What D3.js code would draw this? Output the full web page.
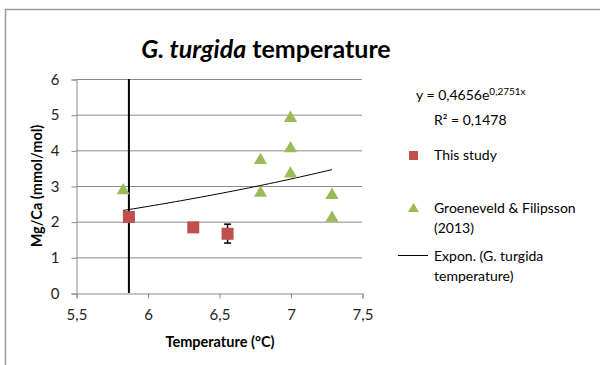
<!DOCTYPE html>
<html>
<head>
<meta charset="utf-8">
<script src="https://cdn.jsdelivr.net/npm/d3@7"></script>
<style>
  html, body { margin: 0; padding: 0; background: #fff; }
  svg { display: block; font-family: Lato, "Open Sans", sans-serif; }
</style>
</head>
<body>
<svg id="chart" width="600" height="365"></svg>
<script>
// Mg/Ca vs temperature for G. turgida
const studyTemp = [5.87, 6.32, 6.56];
const studyMgCa = [2.13, 1.84, 1.66];
const studyErrLow = [0, null, 1.40];
const studyErrHigh = [8, null, 1.93];

const groenTemp = [5.83, 6.79, 6.79, 7.0, 7.0, 7.0, 7.29, 7.29];
const groenMgCa = [2.90, 3.75, 2.83, 4.93, 4.08, 3.37, 2.77, 2.13];

const xTicks = [5.5, 6, 6.5, 7, 7.5];
const yTicks = [0, 1, 2, 3, 4, 5, 6];

// exponential trendline coefficients
const trendA = 0.4656, trendB = 0.2751;
const trendRange = [5.83, 7.29];
const trendSamples = d3.range(0, 41);

const fmt = v => String(v).replace(".", ",");

const svg = d3.select("#chart");
const plot = { left: 76, right: 362, top: 79, bottom: 293 };

const x = d3.scaleLinear().domain([5.5, 7.5]).range([plot.left, plot.right]);
const y = d3.scaleLinear().domain([0, 6]).range([plot.bottom, plot.top]);

// chart area border
svg.append("path")
  .attr("d", `M5.5,365 V9.5 H600`)
  .attr("fill", "none").attr("stroke", "#9a9a9a").attr("stroke-width", 1.5);

// title
const title = svg.append("text")
  .attr("x", 266).attr("y", 58).attr("text-anchor", "middle")
  .attr("font-size", 25).attr("font-weight", "bold").attr("fill", "#000");
title.append("tspan").attr("font-style", "italic").text("G. turgida");
title.append("tspan").text(" temperature");

// gridlines
svg.append("g").selectAll("line").data(yTicks.filter(t => t > 0)).join("line")
  .attr("x1", plot.left).attr("x2", plot.right)
  .attr("y1", d => y(d) + 0.5).attr("y2", d => y(d) + 0.5)
  .attr("stroke", "#8c8c8c").attr("stroke-width", 1);

// axes
const yAxis = svg.append("g").attr("transform", `translate(${plot.left + 0.5},0.5)`)
  .call(d3.axisLeft(y).tickValues(yTicks).tickSize(5).tickPadding(12).tickFormat(fmt));
const xAxis = svg.append("g").attr("transform", `translate(0.5,${plot.bottom + 0.5})`)
  .call(d3.axisBottom(x).tickValues(xTicks).tickSize(5).tickPadding(11).tickFormat(fmt));
[xAxis, yAxis].forEach(a => {
  a.select(".domain").attr("stroke", "#8c8c8c");
  a.selectAll(".tick line").attr("stroke", "#8c8c8c");
  a.selectAll(".tick text").attr("font-size", 15).attr("fill", "#222")
    .attr("font-family", "Lato, 'Open Sans', sans-serif");
});

// axis titles
svg.append("text").attr("x", 220).attr("y", 347).attr("text-anchor", "middle")
  .attr("font-size", 14.5).attr("font-weight", "bold").text("Temperature (°C)");
svg.append("text").attr("transform", "translate(42,186) rotate(-90)")
  .attr("text-anchor", "middle").attr("font-size", 14.5).attr("font-weight", "bold")
  .text("Mg/Ca (mmol/mol)");

const clipId = "plotclip";
svg.append("clipPath").attr("id", clipId).append("rect")
  .attr("x", plot.left).attr("y", plot.top).attr("width", plot.right - plot.left)
  .attr("height", plot.bottom - plot.top);

// trendline
const line = d3.line().x(d => x(d)).y(d => y(trendA * Math.exp(trendB * d)));
const trendXs = trendSamples.map(i => trendRange[0] + (trendRange[1] - trendRange[0]) * i / 40);
svg.append("path").datum(trendXs).attr("d", line)
  .attr("fill", "none").attr("stroke", "#000").attr("stroke-width", 1);

// error bars for this study
const errG = svg.append("g").attr("clip-path", `url(#${clipId})`);
studyTemp.forEach((t, i) => {
  if (studyErrLow[i] == null) return;
  const big = studyErrHigh[i] > 6;
  const cx = x(t);
  errG.append("line").attr("x1", cx).attr("x2", cx)
    .attr("y1", y(studyErrLow[i])).attr("y2", y(studyErrHigh[i]))
    .attr("stroke", "#000").attr("stroke-width", big ? 2 : 1.5);
  if (!big) {
    [studyErrLow[i], studyErrHigh[i]].forEach(v => {
      errG.append("line").attr("x1", cx - 3.5).attr("x2", cx + 3.5)
        .attr("y1", y(v)).attr("y2", y(v))
        .attr("stroke", "#000").attr("stroke-width", 1.5);
    });
  }
});

// markers
const sq = 12;
svg.append("g").selectAll("rect").data(studyTemp).join("rect")
  .attr("x", d => x(d) - sq / 2).attr("y", (d, i) => y(studyMgCa[i]) - sq / 2)
  .attr("width", sq).attr("height", sq).attr("fill", "#c0504d");

const tri = d3.symbol().type(d3.symbolTriangle).size(75);
svg.append("g").selectAll("path").data(groenTemp).join("path")
  .attr("transform", (d, i) => `translate(${x(d)},${y(groenMgCa[i]) + 1})`)
  .attr("d", tri).attr("fill", "#9bbb59");

// equation
const eq = svg.append("text").attr("x", 416).attr("y", 100).attr("font-size", 14);
eq.append("tspan").text(`y = ${fmt(trendA)}e`);
eq.append("tspan").attr("dy", -5).attr("font-size", 10).text(`${fmt(trendB)}x`);
svg.append("text").attr("x", 434).attr("y", 125).attr("font-size", 14).text("R² = 0,1478");

// legend
const lg = svg.append("g").attr("font-size", 14);
lg.append("rect").attr("x", 409).attr("y", 151).attr("width", 9).attr("height", 9).attr("fill", "#c0504d");
lg.append("text").attr("x", 434).attr("y", 160).text("This study");
lg.append("path").attr("transform", "translate(413.5,209)")
  .attr("d", d3.symbol().type(d3.symbolTriangle).size(50)).attr("fill", "#9bbb59");
lg.append("text").attr("x", 434).attr("y", 213).text("Groeneveld & Filipsson");
lg.append("text").attr("x", 434).attr("y", 233).text("(2013)");
lg.append("line").attr("x1", 398).attr("x2", 428).attr("y1", 255.5).attr("y2", 255.5)
  .attr("stroke", "#000").attr("stroke-width", 1);
lg.append("text").attr("x", 434).attr("y", 261).text("Expon. (G. turgida");
lg.append("text").attr("x", 434).attr("y", 281).text("temperature)");
</script>
</body>
</html>
